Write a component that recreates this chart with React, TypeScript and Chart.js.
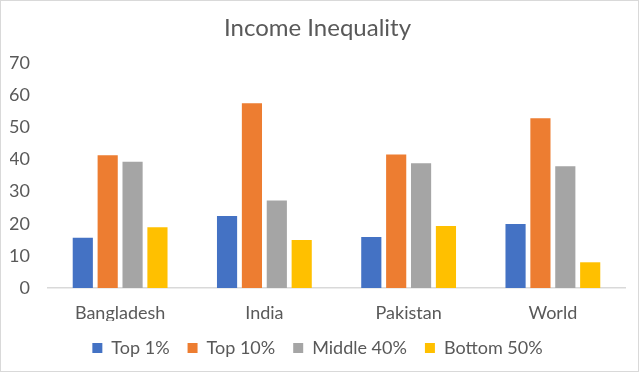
import React, { useEffect, useRef } from "react";
import { Chart, registerables } from "chart.js";

Chart.register(...registerables);

const categories = ["Bangladesh", "India", "Pakistan", "World"];
const top1 = [15.6, 22.4, 15.9, 19.9];
const top10 = [41.3, 57.5, 41.5, 52.8];
const middle40 = [39.3, 27.2, 38.8, 37.9];
const bottom50 = [18.9, 14.9, 19.3, 8.0];
const seriesNames = ["Top 1%", "Top 10%", "Middle 40%", "Bottom 50%"];
const colors = ["#4472C4", "#ED7D31", "#A5A5A5", "#FFC000"];
const FONT = "Lato, 'Open Sans', sans-serif";

export default function App() {
  const ref = useRef<HTMLCanvasElement>(null);
  useEffect(() => {
    document.body.style.margin = "0";
    const values = [top1, top10, middle40, bottom50];
    const chart = new Chart(ref.current!, {
      type: "bar",
      data: {
        labels: categories,
        datasets: values.map((v, i) => ({
          label: seriesNames[i],
          data: v,
          backgroundColor: colors[i],
          borderWidth: 0,
          categoryPercentage: 0.69,
          barPercentage: 0.81,
        })),
      },
      options: {
        animation: false,
        responsive: false,
        maintainAspectRatio: false,
        layout: { padding: { left: 9, right: 13, top: 0, bottom: 4 } },
        plugins: {
          title: {
            display: true,
            text: "Income Inequality",
            color: "#595959",
            font: { family: FONT, size: 24, weight: "normal" },
            padding: { top: 12.6, bottom: 20.6 },
          },
          legend: {
            position: "bottom",
            labels: {
              color: "#595959",
              font: { family: FONT, size: 18 },
              boxWidth: 10,
              boxHeight: 10,
              padding: 18,
            },
          },
          tooltip: { enabled: false },
        },
        scales: {
          x: {
            grid: { display: false, drawTicks: false },
            border: { display: true, color: "#D9D9D9", width: 1.5 },
            ticks: { color: "#595959", font: { family: FONT, size: 18 }, padding: 14.2, maxRotation: 0, minRotation: 0 },
            afterFit: (scale: any) => {
              scale.height = 33;
            },
          },
          y: {
            min: 0,
            max: 70,
            grid: { display: false, drawTicks: false },
            border: { display: false },
            ticks: { stepSize: 10, color: "#595959", font: { family: FONT, size: 18 }, padding: 18 },
            afterFit: (scale: any) => {
              scale.width = 38;
            },
          },
        },
      },
    });
    return () => chart.destroy();
  }, []);
  return (
    <div style={{ position: "absolute", left: 0, top: 0, width: 639, height: 372, boxSizing: "border-box", border: "1px solid #D9D9D9", background: "#fff" }}>
      <canvas ref={ref} width={637} height={370} style={{ display: "block" }} />
    </div>
  );
}
